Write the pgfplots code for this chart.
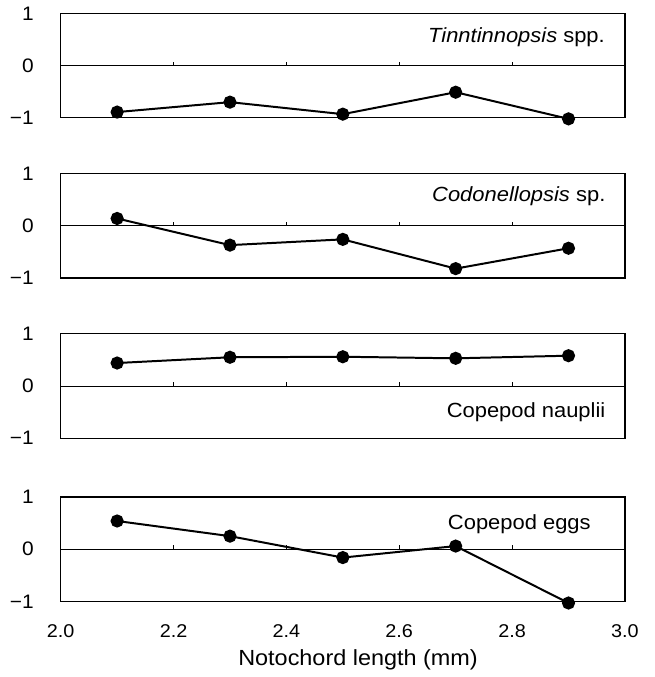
\documentclass[border=0pt]{standalone}
\usepackage{fontspec}
\setmainfont{Liberation Sans}[FakeStretch=1.07]
\usepackage{pgfplots}
\pgfplotsset{compat=1.18}

\pgfplotstableread{
x y
2.1 -0.89
2.3 -0.70
2.5 -0.93
2.7 -0.51
2.9 -1.02
}\tinn
\pgfplotstableread{
x y
2.1 0.14
2.3 -0.37
2.5 -0.26
2.7 -0.82
2.9 -0.43
}\codo
\pgfplotstableread{
x y
2.1 0.44
2.3 0.55
2.5 0.56
2.7 0.53
2.9 0.58
}\naup
\pgfplotstableread{
x y
2.1 0.54
2.3 0.25
2.5 -0.16
2.7 0.06
2.9 -1.03
}\eggs

\pgfplotsset{
  panel/.style={
    scale only axis, width=283.5pt, height=52.5pt,
    xmin=2, xmax=3, ymin=-1, ymax=1,
    xtick={2,2.2,2.4,2.6,2.8,3}, xticklabels={},
    ytick={-1,0,1}, yticklabels={−1,0,1},
    tick style={draw=none},
    yticklabel style={font=\fontsize{9.8}{11}\selectfont, xshift=-10pt},
    axis line style={line width=0.6pt},
    clip=false,
    after end axis/.code={
      \draw[line width=0.45pt] (axis cs:2,0) -- (axis cs:3,0);
      \foreach \t in {2.2,2.4,2.6,2.8} {\draw[line width=0.45pt] (axis cs:\t,0) -- ++(0,2pt);}
    },
  },
  series/.style={black, line width=1pt, mark=*, mark size=2.8pt, mark options={solid}},
}
\tikzset{lab/.style={anchor=east, inner sep=0pt, font=\fontsize{10.3}{12}\selectfont}}

\begin{document}
\begin{tikzpicture}
\path (-30.5pt,-37pt) rectangle (298.5pt,301.5pt);

\begin{axis}[panel, at={(0,243pt)}]
\addplot[series] table[x=x,y=y] {\tinn};
\node[lab] at (axis cs:2.965,0.55) {\textit{Tinntinnopsis} spp.};
\end{axis}

\begin{axis}[panel, at={(0,162.5pt)}]
\addplot[series] table[x=x,y=y] {\codo};
\node[lab] at (axis cs:2.966,0.56) {\textit{Codonellopsis} sp.};
\end{axis}

\begin{axis}[panel, at={(0,82pt)}]
\addplot[series] table[x=x,y=y] {\naup};
\node[lab] at (axis cs:2.966,-0.5) {Copepod nauplii};
\end{axis}

\begin{axis}[panel, at={(0,0pt)},
  xticklabels={2.0,2.2,2.4,2.6,2.8,3.0},
  xticklabel style={font=\fontsize{9.3}{11}\selectfont, yshift=-8pt}]
\addplot[series] table[x=x,y=y] {\eggs};
\node[lab] at (axis cs:2.94,0.47) {Copepod eggs};
\node[font=\fontsize{11}{13}\selectfont] at (axis cs:2.527,-1) [yshift=-29.5pt] {Notochord length (mm)};
\end{axis}
\end{tikzpicture}
\end{document}
